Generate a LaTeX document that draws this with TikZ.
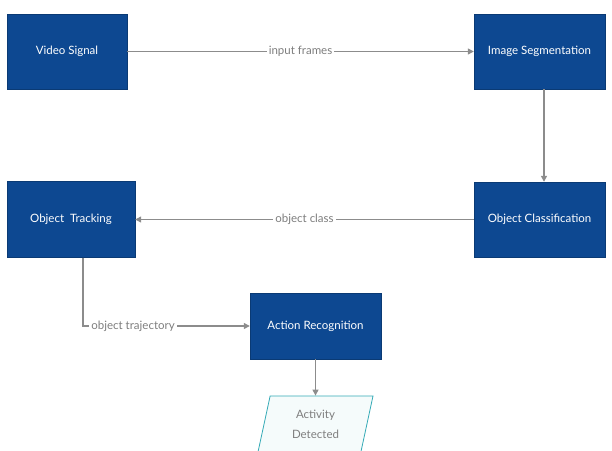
\documentclass[tikz,border=0pt]{standalone}
\usepackage{fontspec}
\setmainfont{Lato}
\usetikzlibrary{shapes.geometric,arrows.meta}
\definecolor{boxblue}{RGB}{13,72,145}
\definecolor{linegrey}{RGB}{140,140,140}
\definecolor{outteal}{RGB}{52,170,182}
\tikzset{
  stage/.style={draw=boxblue!80!black, fill=boxblue, text=white, minimum width=131pt, minimum height=75pt, font=\fontsize{11.5}{13}\selectfont, inner sep=2pt},
  flow/.style={draw=linegrey, line width=1.2pt, -{Triangle[length=6pt,width=6pt]}},
  lbl/.style={fill=white, text=linegrey!90!black, font=\fontsize{11.5}{13}\selectfont, inner sep=2pt},
  result/.style={trapezium, trapezium left angle=71, trapezium right angle=109, trapezium stretches body, draw=outteal, line width=0.8pt, fill=outteal!5, text=linegrey!90!black, minimum width=115pt, minimum height=56pt, align=center, font=\fontsize{11.5}{20}\selectfont}
}
\begin{document}
\begin{tikzpicture}[x=1pt,y=-1pt]

      \useasboundingbox (0,0) rectangle (612,450);

      \node[stage, minimum width=120pt] (video) at (67,51.5) {Video Signal};
      \node[stage] (segment) at (539.5,51.5) {Image Segmentation};
      \node[stage] (classify) at (539.5,219.5) {Object Classification};
      \node[stage, minimum width=128pt, minimum height=76pt] (track) at (71,219.5) {Object\ \ Tracking};
      \node[stage, minimum height=66pt] (action) at (315.5,326) {Action Recognition};
      \node[result] (detected) at (315.5,424) {Activity\\Detected};

      \coordinate (bend) at (83,326);

      \draw[flow] (video) -- node[lbl] {input frames} (segment);
      \draw[flow] ([xshift=4.5pt]segment.south) -- ([xshift=4.5pt]classify.north);
      \draw[flow] (classify) -- node[lbl] {object class} (track);
      \draw[flow] (track.south -| bend) -- (bend) -- node[lbl, pos=0.3] {object trajectory} (action);
      \draw[flow] (action) -- (detected);

    \end{tikzpicture}
\end{document}
